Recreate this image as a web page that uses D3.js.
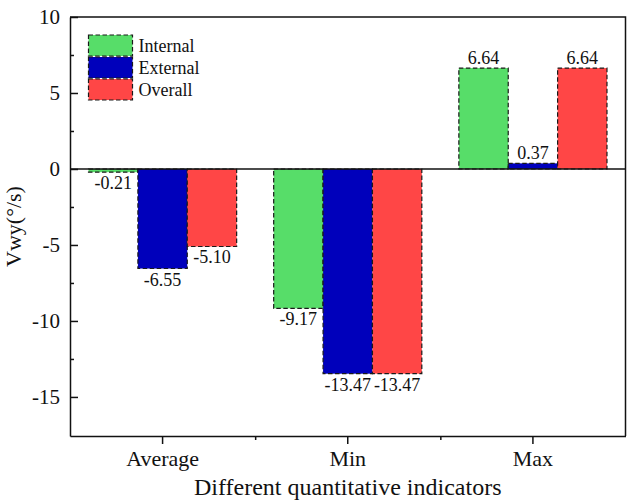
<!DOCTYPE html>
<html>
<head>
<meta charset="utf-8">
<script src="https://cdn.jsdelivr.net/npm/d3@7/dist/d3.min.js"></script>
<style>
  html, body { margin: 0; padding: 0; background: #fff; }
  svg { display: block; }
  text { font-family: "Liberation Serif", "Times New Roman", serif; fill: #111; }
</style>
</head>
<body>
<svg id="chart" width="627" height="502"></svg>
<script>
// Indicator categories along the x axis
const categories = ["Average", "Min", "Max"];
// Series names (legend order)
const seriesNames = ["Internal", "External", "Overall"];
// Vwy values per series, one per category
const internalValues = [-0.21, -9.17, 6.64];
const externalValues = [-6.55, -13.47, 0.37];
const overallValues = [-5.10, -13.47, 6.64];
// Axis ticks
const yMajorTicks = [-15, -10, -5, 0, 5, 10];
const yMinorTicks = [-12.5, -7.5, -2.5, 2.5, 7.5];
const seriesColors = ["#57dd69", "#0000bb", "#ff4646"];

const seriesValues = [internalValues, externalValues, overallValues];
const rows = [];
categories.forEach((c, i) => {
  seriesNames.forEach((s, j) => {
    rows.push({ category: c, series: s, value: seriesValues[j][i], color: seriesColors[j] });
  });
});

const svg = d3.select("#chart");
const plotLeft = 70, plotRight = 625.5, plotTop = 17, plotBottom = 436;
const serif = '"Liberation Serif", "Times New Roman", serif';

const x = d3.scaleBand().domain(categories).range([plotLeft, plotRight]).padding(0);
const bw = x.bandwidth();
const x1 = d3.scaleBand().domain(seriesNames).range([bw * 0.1, bw * 0.9]).padding(0);
const y = d3.scaleLinear().domain([-17.57, 10]).range([plotBottom, plotTop]);

// Bars
svg.append("g").selectAll("rect")
  .data(rows)
  .join("rect")
  .attr("x", d => x(d.category) + x1(d.series))
  .attr("width", x1.bandwidth())
  .attr("y", d => y(Math.max(0, d.value)))
  .attr("height", d => Math.abs(y(d.value) - y(0)))
  .attr("fill", d => d.color)
  .attr("stroke", "#1a1a1a")
  .attr("stroke-width", 1.2)
  .attr("stroke-dasharray", "4.5,2.5");

// Value labels
svg.append("g").selectAll("text")
  .data(rows)
  .join("text")
  .attr("x", d => x(d.category) + x1(d.series) + x1.bandwidth() / 2)
  .attr("y", d => d.value >= 0 ? y(d.value) - 4 : y(d.value) + 17)
  .attr("text-anchor", "middle")
  .style("font-size", "18px")
  .text(d => d.value.toFixed(2));

// Zero line
svg.append("line")
  .attr("x1", plotLeft).attr("x2", plotRight)
  .attr("y1", y(0)).attr("y2", y(0))
  .attr("stroke", "#111").attr("stroke-width", 1.5);

// Y axis (ticks pointing inward)
const yAxis = svg.append("g")
  .attr("transform", `translate(${plotLeft},0)`)
  .call(d3.axisLeft(y).tickValues(yMajorTicks).tickSize(-8).tickSizeOuter(0)
    .tickPadding(10).tickFormat(d => String(d)));
yAxis.attr("font-family", serif).attr("font-size", 21);
yAxis.selectAll("text").attr("fill", "#111");
svg.append("g")
  .attr("transform", `translate(${plotLeft},0)`)
  .call(d3.axisLeft(y).tickValues(yMinorTicks).tickSize(-4).tickSizeOuter(0).tickFormat(""))
  .call(g => g.select(".domain").remove());

// X axis (ticks pointing outward)
const xAxis = svg.append("g")
  .attr("transform", `translate(0,${plotBottom})`)
  .call(d3.axisBottom(x).tickSize(8).tickSizeOuter(0).tickPadding(6));
xAxis.attr("font-family", serif).attr("font-size", 22);
xAxis.selectAll("text").attr("fill", "#111");
const xMinor = d3.scaleLinear().domain([0, categories.length]).range([plotLeft, plotRight]);
svg.append("g")
  .attr("transform", `translate(0,${plotBottom})`)
  .call(d3.axisBottom(xMinor).tickValues([1, 2]).tickSize(4).tickSizeOuter(0).tickFormat(""))
  .call(g => g.select(".domain").remove());

svg.selectAll(".domain, .tick line").attr("stroke", "#111").attr("stroke-width", 1.5);

// Frame (top and right)
svg.append("path")
  .attr("d", `M${plotLeft},${plotTop}H${plotRight}V${plotBottom}`)
  .attr("fill", "none").attr("stroke", "#111").attr("stroke-width", 1.5);

// Axis titles
svg.append("text")
  .attr("x", (plotLeft + plotRight) / 2)
  .attr("y", 495)
  .attr("text-anchor", "middle")
  .style("font-size", "24px")
  .text("Different quantitative indicators");

svg.append("text")
  .attr("transform", `translate(21,${(plotTop + plotBottom) / 2}) rotate(-90)`)
  .attr("text-anchor", "middle")
  .style("font-size", "22px")
  .text("Vwy(°/s)");

// Legend
const legend = svg.append("g").attr("transform", "translate(88.5,35)");
seriesNames.forEach((s, i) => {
  const g = legend.append("g").attr("transform", `translate(0,${i * 22})`);
  g.append("rect")
    .attr("width", 44).attr("height", 21)
    .attr("fill", seriesColors[i])
    .attr("stroke", "#1a1a1a").attr("stroke-width", 1.2)
    .attr("stroke-dasharray", "4.5,2.5");
  g.append("text")
    .attr("x", 50).attr("y", 16.5)
    .style("font-size", "18px")
    .text(s);
});
</script>
</body>
</html>
